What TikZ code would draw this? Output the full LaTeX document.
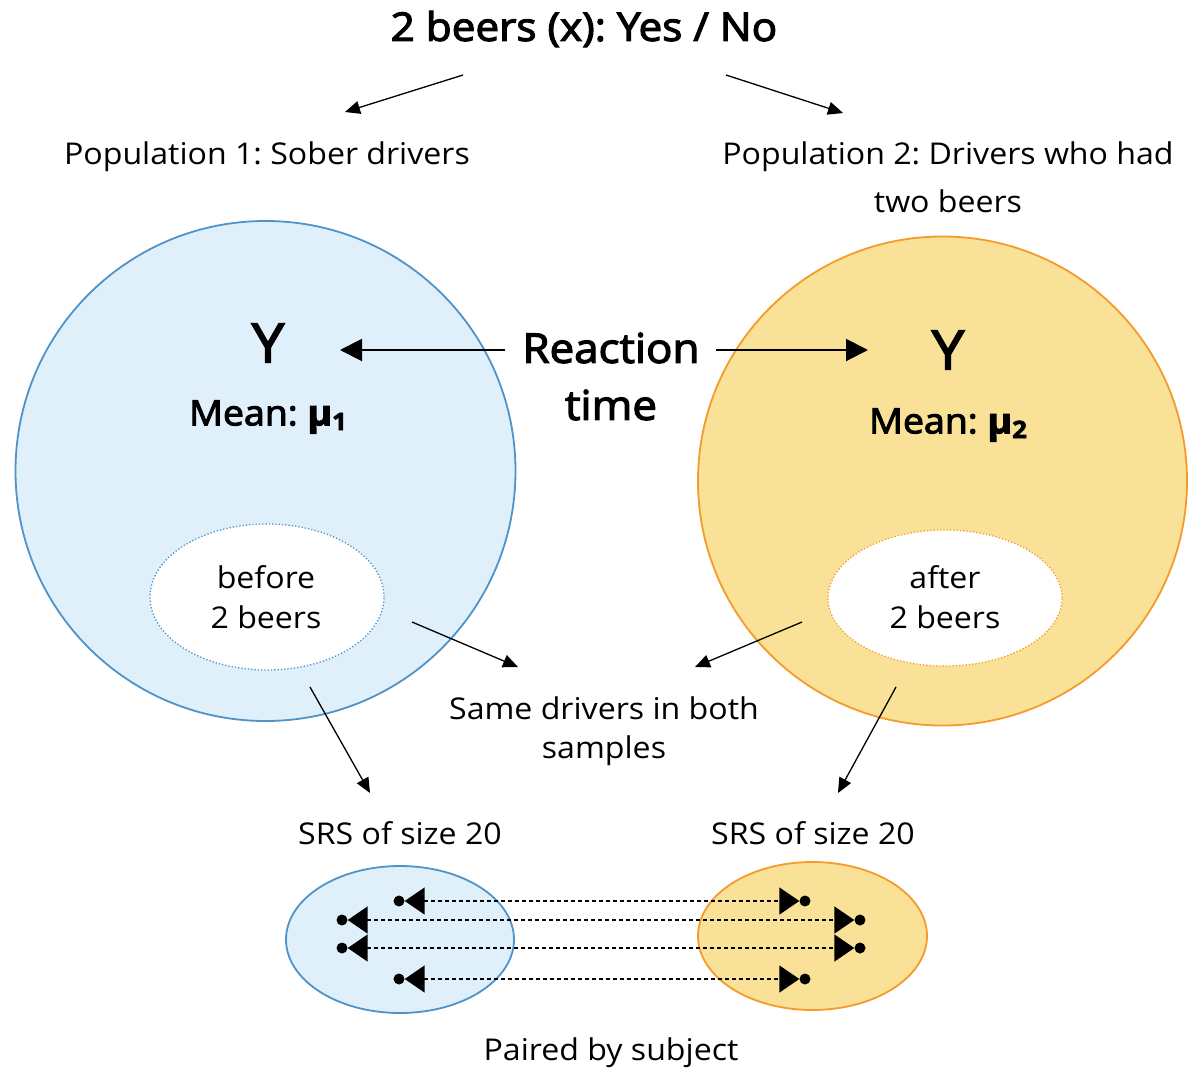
\documentclass[tikz,border=0pt]{standalone}
\usepackage{fontspec}
\setmainfont{Open Sans}[FakeStretch=1.07]
\newfontfamily\semib{Open Sans}[FakeStretch=1.07,FakeBold=3]
\usetikzlibrary{arrows.meta,shapes.geometric}
\definecolor{bfill}{HTML}{DFF0FB}
\definecolor{bline}{HTML}{4F93C9}
\definecolor{ofill}{HTML}{F9E197}
\definecolor{oline}{HTML}{F59B2A}
\newcommand{\fs}[1]{\fontsize{#1bp}{#1bp}\selectfont}
\frenchspacing
\tikzset{
  txt/.style={inner sep=0pt, font=\fs{30}, yshift=-3bp},
  big/.style={inner sep=0pt, font=\semib\fs{41}},
  mid/.style={inner sep=0pt, font=\semib\fs{35}},
  thin/.style={-{Triangle[length=15bp,width=13bp]}, line width=1.3bp},
  thick/.style={-{Triangle[length=22bp,width=22bp]}, line width=2bp},
  dot/.style={circle, fill=black, inner sep=0pt, minimum size=11bp},
  pair/.style={{Triangle[length=20bp,width=27bp]}-{Triangle[length=20bp,width=27bp]}, line width=1.5bp, dash pattern=on 4bp off 3bp},
  popb/.style={circle, fill=bfill, draw=bline, line width=1.8bp, inner sep=0pt},
  popo/.style={circle, fill=ofill, draw=oline, line width=1.8bp, inner sep=0pt},
  smpb/.style={ellipse, fill=bfill, draw=bline, line width=1.8bp, inner sep=0pt},
  smpo/.style={ellipse, fill=ofill, draw=oline, line width=1.8bp, inner sep=0pt},
  subb/.style={ellipse, fill=white, draw=bline, line width=1.3bp, dotted, inner sep=0pt},
  subo/.style={ellipse, fill=white, draw=oline, line width=1.3bp, dotted, inner sep=0pt},
}
\begin{document}
\begin{tikzpicture}[x=1bp,y=-1bp]
\useasboundingbox[fill=white] (0,0) rectangle (1190,1070);
% populations
\node[popb, minimum size=500bp] (P1) at (265.5,471) {};
\node[popo, minimum size=489bp] (P2) at (942.5,481) {};
\node[subb, minimum width=234bp, minimum height=146bp] (S1) at (267,597) {};
\node[subo, minimum width=234bp, minimum height=136bp] (S2) at (945,598) {};
% title
\node[big, font=\semib\fs{39.5}] (title) at (584,29) {2 beers (x): Yes / No};
\node[txt] (pop1) at (267,154) {Population 1: Sober drivers};
\node[txt] (pop2a) at (948,154) {Population 2: Drivers who had};
\node[txt] (pop2b) at (948,198) {two beers};
\coordinate (t1) at (463,75); \coordinate (e1) at (345,112);
\coordinate (t2) at (726,75); \coordinate (e2) at (843,113);
\draw[thin] (t1) -- (e1);
\draw[thin] (t2) -- (e2);
% Y and mean
\node[big, font=\semib\fs{54}] (Y1) at (268,343) {Y};
\node[mid] (M1) at (268,417) {Mean: {\bfseries µ\raisebox{-0.25ex}{\fs{24}1}}};
\node[big, font=\semib\fs{54}] (Y2) at (948,350) {Y};
\node[mid] (M2) at (948,425) {Mean: {\bfseries µ\raisebox{-0.25ex}{\fs{24}2}}};
\node[big] (R1) at (611,348) {Reaction};
\node[big] (R2) at (611,405) {time};
\coordinate (ra) at (505,350); \coordinate (rb) at (340,350);
\coordinate (rc) at (716,350); \coordinate (rd) at (868,350);
\draw[thick] (ra) -- (rb);
\draw[thick] (rc) -- (rd);
% sub texts
\node[txt] (b1) at (266,574) {before};
\node[txt] (b2) at (266,614) {2 beers};
\node[txt] (a1) at (945,574) {after};
\node[txt] (a2) at (945,614) {2 beers};
\node[txt] (same1) at (604,705) {Same drivers in both};
\node[txt] (same2) at (604,748) {samples};
\coordinate (s1a) at (412,622); \coordinate (s1b) at (518,667);
\coordinate (s2a) at (802,622); \coordinate (s2b) at (695,667);
\draw[thin] (s1a) -- (s1b);
\draw[thin] (s2a) -- (s2b);
\coordinate (d1a) at (310,687); \coordinate (d1b) at (370,793);
\coordinate (d2a) at (896,687); \coordinate (d2b) at (838,793);
\draw[thin] (d1a) -- (d1b);
\draw[thin] (d2a) -- (d2b);
\node[txt] (srs1) at (400,830) {SRS of size 20};
\node[txt] (srs2) at (813,830) {SRS of size 20};
% samples
\node[smpb, minimum width=228bp, minimum height=147bp] (B1) at (400,939.5) {};
\node[smpo, minimum width=229bp, minimum height=148bp] (B2) at (812.5,936) {};
\node[dot] (l1) at (399,901) {}; \node[dot] (r1) at (805,901) {};
\node[dot] (l2) at (342,920) {}; \node[dot] (r2) at (860,920) {};
\node[dot] (l3) at (342,948) {}; \node[dot] (r3) at (860,948) {};
\node[dot] (l4) at (399,979) {}; \node[dot] (r4) at (805,979) {};
\foreach \i in {1,2,3,4} \draw[pair] (l\i) -- (r\i);
\node[txt] (paired) at (611,1050) {Paired by subject};
\end{tikzpicture}
\end{document}
